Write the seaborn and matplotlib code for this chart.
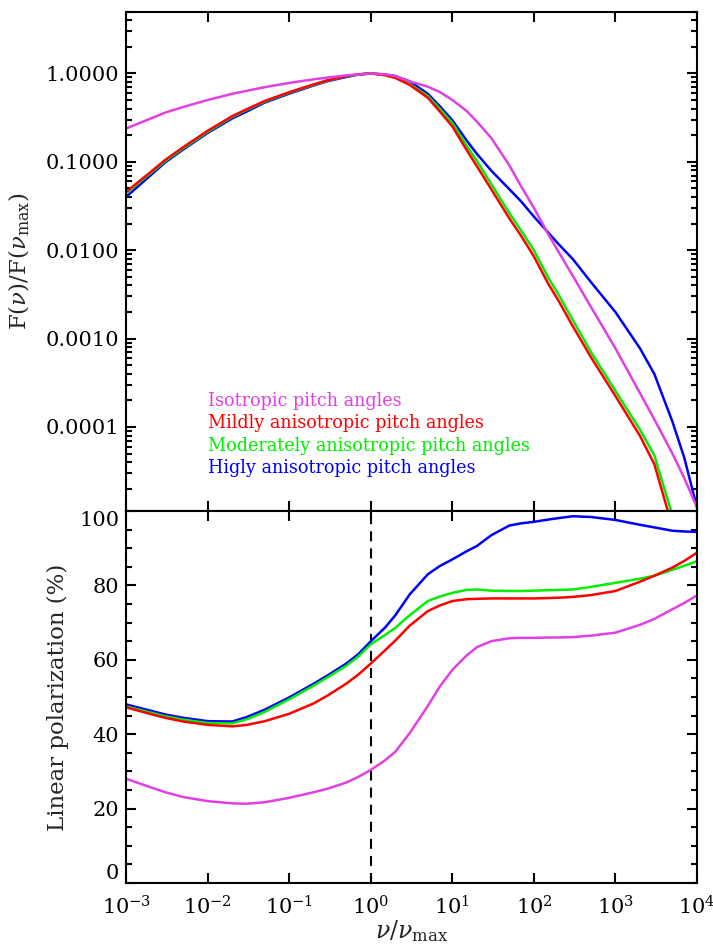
import numpy as np
import pandas as pd
import matplotlib
matplotlib.use('Agg')
import matplotlib.pyplot as plt
import matplotlib.ticker as mticker
import seaborn as sns

# frequency grid nu/nu_max
nu = [1e-3, 2e-3, 3e-3, 5e-3, 1e-2, 2e-2, 3e-2, 5e-2, 0.1, 0.2, 0.3, 0.5,
      0.7, 1.0, 1.5, 2.0, 3.0, 5.0, 7.0, 10.0, 15.0, 20.0, 30.0, 50.0, 70.0,
      100.0, 150.0, 200.0, 300.0, 500.0, 1e3, 2e3, 3e3, 5e3, 7e3, 1e4]

cases = ['Isotropic pitch angles',
         'Mildly anisotropic pitch angles',
         'Moderately anisotropic pitch angles',
         'Higly anisotropic pitch angles']
colors = ['#e040e4', '#ff0000', '#00ee00', '#0000ff']

# F(nu)/F(nu_max)
flux_iso = [0.2388, 0.3097, 0.3606, 0.4178, 0.5012, 0.5888, 0.6353, 0.6998, 0.7816, 0.8590, 0.8995, 0.9506,
            0.9727, 1.0, 0.9772, 0.9333, 0.8128, 0.7079, 0.6166, 0.5012, 0.3758, 0.2851, 0.1862, 0.0912, 0.05248,
            0.0302, 0.01514, 0.00964, 0.00513, 0.00229, 7.76e-4, 2.42e-4, 1.22e-4, 5.01e-5, 2.63e-5, 1.23e-5]
flux_mild = [0.04581, 0.07709, 0.1050, 0.1466, 0.2249, 0.3296, 0.3936, 0.4887, 0.6138, 0.7534, 0.8414, 0.9333,
             0.9772, 1.0, 0.9550, 0.8913, 0.7413, 0.5309, 0.3715, 0.2512, 0.1355, 0.08913, 0.04898, 0.02291, 0.01445,
             0.008511, 0.004169, 0.002692, 0.001380, 6.17e-4, 2.24e-4, 7.94e-5, 3.80e-5, 7.41e-6, np.nan, np.nan]
flux_mod = [0.04446, 0.07482, 0.1019, 0.1426, 0.2193, 0.3228, 0.3864, 0.4808, 0.6053, 0.7447, 0.8356, 0.9290,
            0.9750, 1.0, 0.9550, 0.8954, 0.7586, 0.5559, 0.3981, 0.2754, 0.1514, 0.1023, 0.05623, 0.02630, 0.01660,
            0.01, 0.004898, 0.003162, 0.001622, 7.08e-4, 2.57e-4, 9.33e-5, 4.79e-5, 1.0e-5, np.nan, np.nan]
flux_high = [0.04027, 0.07079, 0.09840, 0.1380, 0.2128, 0.3105, 0.3707, 0.4688, 0.5916, 0.7328, 0.8222, 0.9120,
             0.9705, 1.0, 0.9727, 0.9333, 0.8128, 0.5888, 0.4266, 0.2951, 0.1738, 0.1230, 0.07943, 0.04898, 0.03548,
             0.02399, 0.01585, 0.01175, 0.007943, 0.004365, 0.001995, 7.76e-4, 3.98e-4, 1.15e-4, 4.47e-5, 1.23e-5]

# linear polarization (%)
pol_iso = [28.0, 25.7, 24.4, 23.1, 22.0, 21.4, 21.3, 21.7, 22.9, 24.4, 25.4, 27.0,
           28.5, 30.4, 33.0, 35.3, 40.3, 47.6, 52.8, 57.3, 61.2, 63.4, 65.0, 65.8, 65.9,
           65.9, 66.0, 66.0, 66.1, 66.5, 67.3, 69.4, 71.0, 73.6, 75.3, 77.3]
pol_mild = [47.2, 45.4, 44.4, 43.4, 42.5, 42.1, 42.5, 43.5, 45.5, 48.3, 50.5, 53.6,
            56.0, 59.0, 62.6, 65.2, 69.2, 73.1, 74.6, 75.8, 76.3, 76.4, 76.5, 76.5, 76.5,
            76.5, 76.6, 76.7, 76.9, 77.4, 78.5, 81.0, 82.6, 84.8, 86.6, 88.8]
pol_mod = [47.4, 45.8, 44.8, 43.9, 43.0, 42.9, 44.0, 46.0, 49.4, 53.1, 55.4, 58.4,
           60.9, 64.2, 66.7, 68.6, 72.0, 75.8, 77.0, 78.0, 78.8, 78.9, 78.6, 78.5, 78.5,
           78.6, 78.7, 78.8, 78.9, 79.6, 80.7, 81.8, 82.6, 84.2, 85.3, 86.5]
pol_high = [48.0, 46.3, 45.3, 44.4, 43.5, 43.4, 44.6, 46.6, 49.9, 53.6, 55.9, 59.0,
            61.5, 65.0, 68.7, 72.0, 77.6, 83.0, 85.2, 87.0, 89.2, 90.6, 93.5, 96.1, 96.7,
            97.1, 97.7, 98.1, 98.6, 98.4, 97.6, 96.3, 95.6, 94.7, 94.5, 94.4]

flux = [flux_iso, flux_mild, flux_mod, flux_high]
pol = [pol_iso, pol_mild, pol_mod, pol_high]

frames = []
for name, f, p in zip(cases, flux, pol):
    frames.append(pd.DataFrame({'nu': nu, 'flux': f, 'pol': p, 'case': name}))
df = pd.concat(frames, ignore_index=True)

sns.set_theme(style='ticks')
plt.rcParams['font.family'] = ['DejaVu Serif']
plt.rcParams['mathtext.fontset'] = 'dejavuserif'
plt.rcParams['axes.linewidth'] = 1.5

palette = dict(zip(cases, colors))
order = [cases[3], cases[2], cases[1], cases[0]]

fig = plt.figure(figsize=(7.13, 9.49), dpi=100)
ax1 = fig.add_axes([0.1771, 0.4615, 0.8004, 0.5262])
ax2 = fig.add_axes([0.1771, 0.0696, 0.8004, 0.3919])

for ax in (ax1, ax2):
    ax.set_xscale('log')

sns.lineplot(data=df.dropna(subset=['flux']), x='nu', y='flux', hue='case', hue_order=order,
             palette=palette, estimator=None, errorbar=None, lw=1.8, legend=False, ax=ax1)
sns.lineplot(data=df, x='nu', y='pol', hue='case', hue_order=order,
             palette=palette, estimator=None, errorbar=None, lw=1.8, legend=False, ax=ax2)
ax2.axvline(1.0, color='black', lw=1.5, ls=(0, (4.8, 3.4)), zorder=1)

for ax in (ax1, ax2):
    ax.set_xlim(1e-3, 1e4)
    ax.xaxis.set_major_locator(mticker.LogLocator(base=10, numticks=20))
    ax.xaxis.set_minor_locator(mticker.NullLocator())
    ax.tick_params(which='both', direction='in', top=True, right=True, width=1.5,
                   colors='black', labelsize=15)
    ax.tick_params(which='major', length=7.5)
    ax.tick_params(which='minor', length=4)
    ax.tick_params(axis='y', pad=5)
    ax.tick_params(axis='x', pad=9)
    for s in ax.spines.values():
        s.set_color('black')
        s.set_linewidth(1.5)

ax1.set_yscale('log')
ax1.set_ylim(1.12e-5, 5)
ax1.yaxis.set_major_locator(mticker.LogLocator(base=10, numticks=20))
ax1.yaxis.set_major_formatter(mticker.FormatStrFormatter('%.4f'))
ax1.yaxis.set_minor_locator(mticker.LogLocator(base=10, subs=np.arange(2, 10), numticks=20))
ax1.yaxis.set_minor_formatter(mticker.NullFormatter())
ax1.tick_params(labelbottom=False)
ax1.set_xlabel('')
ax1.set_ylabel(r'F($\nu$)/F($\nu_{\rm max}$)', fontsize=16.5)
ax1.yaxis.set_label_coords(-0.165, 0.5)

ax2.set_ylim(0, 100)
ax2.yaxis.set_major_locator(mticker.MultipleLocator(20))
ax2.yaxis.set_minor_locator(mticker.MultipleLocator(5))
ax2.set_ylabel('Linear polarization (%)', fontsize=16.5)
ax2.yaxis.set_label_coords(-0.100, 0.5)
ax2.set_xlabel(r'$\nu/\nu_{\rm max}$', fontsize=17)
ax2.xaxis.set_label_coords(0.5, -0.094)

# coloured legend texts
text_y = [0.210, 0.1653, 0.1204, 0.0763]
for name, c, ty in zip(cases, colors, text_y):
    ax1.text(0.1437, ty, name, color=c, fontsize=12.7, ha='left', va='baseline',
             transform=ax1.transAxes)

# keep the end labels of the lower panel inside the frame, as in the original
fig.canvas.draw()
for tick in ax2.yaxis.get_major_ticks():
    if np.isclose(tick.get_loc(), 100):
        tick.label1.set_va('top')
    elif np.isclose(tick.get_loc(), 0):
        tick.label1.set_va('bottom')

fig.savefig('out.png', dpi=100)
